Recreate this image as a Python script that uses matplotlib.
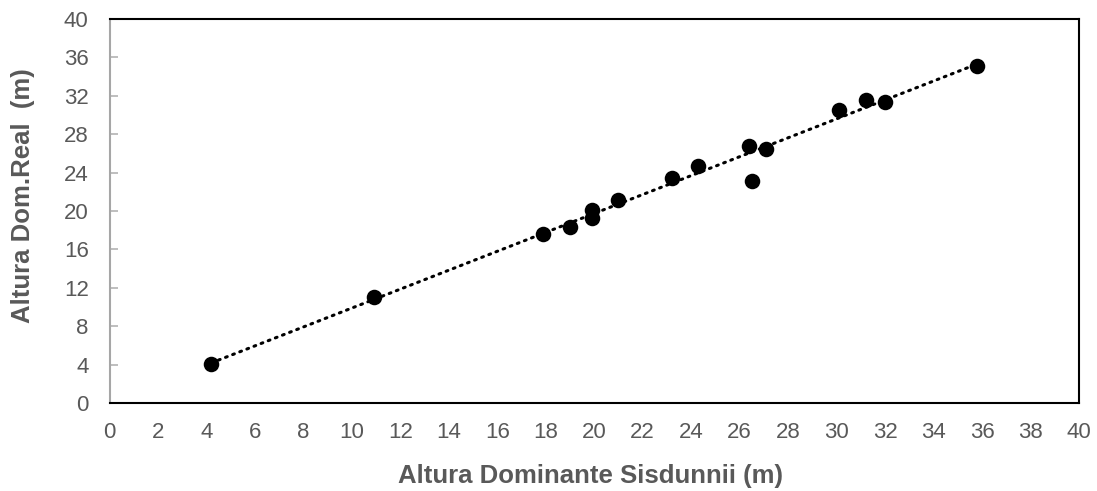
import numpy as np
import matplotlib
matplotlib.use("Agg")
import matplotlib.pyplot as plt

plt.rcParams['font.family'] = ['Liberation Sans', 'DejaVu Sans']

# Dominant height: Sisdunnii model vs. measured
sisdunnii = [4.2, 10.9, 17.9, 19.0, 19.9, 19.9, 21.0, 23.2, 24.3, 26.4, 26.5, 27.1, 30.1, 31.2, 32.0, 35.8]
real      = [4.1, 11.0, 17.6, 18.3, 20.1, 19.3, 21.1, 23.4, 24.7, 26.8, 23.1, 26.5, 30.5, 31.6, 31.4, 35.1]

x_ticks = list(range(0, 41, 2))
y_ticks = list(range(0, 41, 4))

GRAY_TXT = '#595959'
W, H = 1097, 491

fig = plt.figure(figsize=(W / 100, H / 100), dpi=100)
ax = fig.add_axes([109.5 / W, 1 - 403 / H, (1079 - 109.5) / W, (403 - 19) / H])

x = np.array(sisdunnii)
y = np.array(real)

# Linear trend line over the data range
slope, intercept = np.polyfit(x, y, 1)
xl = np.array([x.min(), x.max()])
ax.plot(xl, slope * xl + intercept, color='black', lw=2.2,
        linestyle=(0, (0.6, 1.9)), dash_capstyle='round', zorder=2)

ax.scatter(x, y, s=125, color='black', zorder=3, linewidths=0)

ax.set_xlim(0, 40)
ax.set_ylim(0, 40)
ax.set_xticks(x_ticks)
ax.set_yticks(y_ticks)

ax.tick_params(axis='x', length=0, pad=14, labelsize=16, labelcolor=GRAY_TXT)
ax.tick_params(axis='y', direction='in', length=6, width=1.2, color='#b3b3b3',
               pad=15, labelsize=16, labelcolor=GRAY_TXT)

for side in ('top', 'right', 'bottom'):
    ax.spines[side].set_color('black')
    ax.spines[side].set_linewidth(1.5)
ax.spines['left'].set_color('#a6a6a6')
ax.spines['left'].set_linewidth(1.5)

fig.text(590 / W, 1 - 476 / H, 'Altura Dominante Sisdunnii (m)', fontsize=18.5,
         fontweight='bold', color=GRAY_TXT, ha='center', va='center')
fig.text(23 / W, 1 - 196 / H, 'Altura Dom.Real  (m)', fontsize=18.5,
         fontweight='bold', color=GRAY_TXT, ha='center', va='center', rotation=90)

fig.savefig('out.png', dpi=100)
